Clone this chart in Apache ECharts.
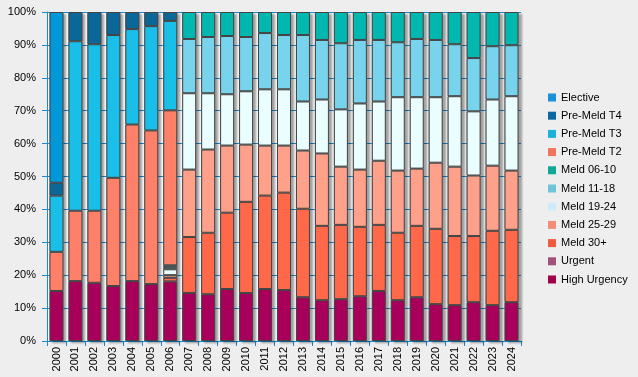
<!DOCTYPE html>
<html>
<head>
<meta charset="utf-8">
<script src="https://cdn.jsdelivr.net/npm/echarts@6/dist/echarts.min.js"></script>
<style>
  html, body { margin: 0; padding: 0; background: #eeeeee; }
  #chart { width: 638px; height: 377px; }
</style>
</head>
<body>
<div id="chart"></div>
<script>
var years = ['2000','2001','2002','2003','2004','2005','2006','2007','2008','2009','2010','2011','2012',
  '2013','2014','2015','2016','2017','2018','2019','2020','2021','2022','2023','2024'];
var yTicks = ['0%','10%','20%','30%','40%','50%','60%','70%','80%','90%','100%'];

// percentages per year, bottom of the stack first
var highUrgency = [15.2,18.2,17.7,16.7,18.2,17.3,18.1,14.6,14.2,15.8,14.6,15.8,15.5,13.3,12.4,12.7,13.6,15.2,12.4,13.3,11.2,10.9,11.8,10.9,11.8];
var urgent      = [0,0,0,0,0,0,0,0,0,0,0,0,0,0,0,0,0,0,0,0,0,0,0,0,0];
var meld30      = [0,0,0,0,0,0,1.1,17.0,18.7,23.2,27.7,28.4,29.6,26.9,22.6,22.6,21.1,20.1,20.5,21.7,22.9,21.0,20.1,22.6,22.0];
var meld25      = [0,0,0,0,0,0,0.8,20.5,25.3,20.4,17.4,15.2,14.3,17.7,22.0,17.7,17.4,19.5,18.9,17.4,20.1,21.1,18.4,19.8,18.0];
var meld19      = [0,0,0,0,0,0,1.8,23.2,17.1,15.6,16.2,17.1,17.1,14.9,16.4,17.4,20.1,18.0,22.3,21.7,19.9,21.4,19.5,20.1,22.6];
var meld11      = [0,0,0,0,0,0,0.6,16.5,17.1,17.7,16.5,17.1,16.5,20.2,18.1,20.1,19.3,18.7,16.7,17.7,17.4,15.8,16.2,16.2,15.5];
var meld06      = [0,0,0,0,0,0,0.6,8.2,7.6,7.3,7.6,6.4,7.0,7.0,8.5,9.5,8.5,8.5,9.2,8.2,8.5,9.8,14.0,10.4,10.1];
var preT2       = [11.9,21.4,21.9,32.9,47.6,46.7,47.1,0,0,0,0,0,0,0,0,0,0,0,0,0,0,0,0,0,0];
var preT3       = [17.1,51.5,50.6,43.4,29.0,31.7,27.2,0,0,0,0,0,0,0,0,0,0,0,0,0,0,0,0,0,0];
var preT4       = [3.9,8.9,9.8,7.0,5.2,4.3,2.7,0,0,0,0,0,0,0,0,0,0,0,0,0,0,0,0,0,0];
var elective    = [51.9,0,0,0,0,0,0,0,0,0,0,0,0,0,0,0,0,0,0,0,0,0,0,0,0];

var stackDefs = [
  ['High Urgency', highUrgency, '#a8005a'],
  ['Urgent', urgent, '#a0507a'],
  ['Meld 30+', meld30, '#ff6849'],
  ['Meld 25-29', meld25, '#ffa08a'],
  ['Meld 19-24', meld19, '#eafeff'],
  ['Meld 11-18', meld11, '#78d4ec'],
  ['Meld 06-10', meld06, '#00b8b0'],
  ['Pre-Meld T2', preT2, '#ff8068'],
  ['Pre-Meld T3', preT3, '#18bfe8'],
  ['Pre-Meld T4', preT4, '#0a6898'],
  ['Elective', elective, '#0098d8']
];

var totals = years.map(function (y, i) {
  var s = 0;
  stackDefs.forEach(function (d) { s += d[1][i]; });
  return s;
});

var axisBlue = '#1a8ad4';
var chart = echarts.init(document.getElementById('chart'), null, {renderer: 'canvas'});

var series = [{
  name: 'shadow',
  type: 'bar',
  barWidth: 14,
  barGap: '-100%',
  silent: true,
  itemStyle: {
    color: '#888',
    shadowColor: 'rgba(0,0,0,0.35)',
    shadowBlur: 2,
    shadowOffsetX: 3,
    shadowOffsetY: 2
  },
  data: totals
}];

stackDefs.forEach(function (d) {
  series.push({
    name: d[0],
    type: 'bar',
    stack: 'all',
    barWidth: 14,
    itemStyle: {
      color: d[2],
      borderColor: '#444',
      borderWidth: 1
    },
    data: d[1].map(function (v) { return v === 0 ? '-' : v; })
  });
});

var option = {
  backgroundColor: '#eeeeee',
  animation: false,
  textStyle: { fontFamily: 'Liberation Sans, Arial, sans-serif' },
  grid: {
    left: 47,
    right: 117,
    top: 12,
    bottom: 36,
    show: true,
    backgroundColor: '#f8f8f8',
    borderWidth: 0
  },
  legend: {
    orient: 'vertical',
    left: 543,
    top: 87,
    itemWidth: 8,
    itemHeight: 8,
    itemGap: 7.2,
    icon: 'rect',
    textStyle: { color: '#000', fontSize: 11, fontFamily: 'Liberation Sans, Arial, sans-serif' },
    data: ['Elective','Pre-Meld T4','Pre-Meld T3','Pre-Meld T2','Meld 06-10','Meld 11-18',
      'Meld 19-24','Meld 25-29','Meld 30+','Urgent','High Urgency'].map(function (n) {
      var col = {'Elective':'#1a90d8','Pre-Meld T4':'#0a6aa0','Pre-Meld T3':'#1ab2dc','Pre-Meld T2':'#f4735e',
        'Meld 06-10':'#10a898','Meld 11-18':'#70c4d8','Meld 19-24':'#cfeafa','Meld 25-29':'#f08e7a',
        'Meld 30+':'#f05a3c','Urgent':'#a0507a','High Urgency':'#a0004c'}[n];
      return { name: n, itemStyle: { color: col, borderWidth: 0 } };
    })
  },
  xAxis: {
    type: 'category',
    data: years,
    axisLine: { lineStyle: { color: axisBlue } },
    axisTick: { show: true, length: 5, lineStyle: { color: axisBlue } },
    axisLabel: { rotate: 90, color: '#000', fontSize: 11, margin: 6, interval: 0 }
  },
  yAxis: {
    type: 'value',
    min: 0,
    max: 100,
    interval: 10,
    axisLine: { show: true, lineStyle: { color: axisBlue } },
    axisTick: { show: true, length: 5, lineStyle: { color: axisBlue } },
    axisLabel: {
      color: '#000', fontSize: 11, margin: 11,
      formatter: function (v) { return yTicks[Math.round(v / 10)]; }
    },
    splitLine: { show: true, lineStyle: { color: axisBlue, width: 1 } }
  },
  series: series
};

chart.setOption(option);
</script>
</body>
</html>
